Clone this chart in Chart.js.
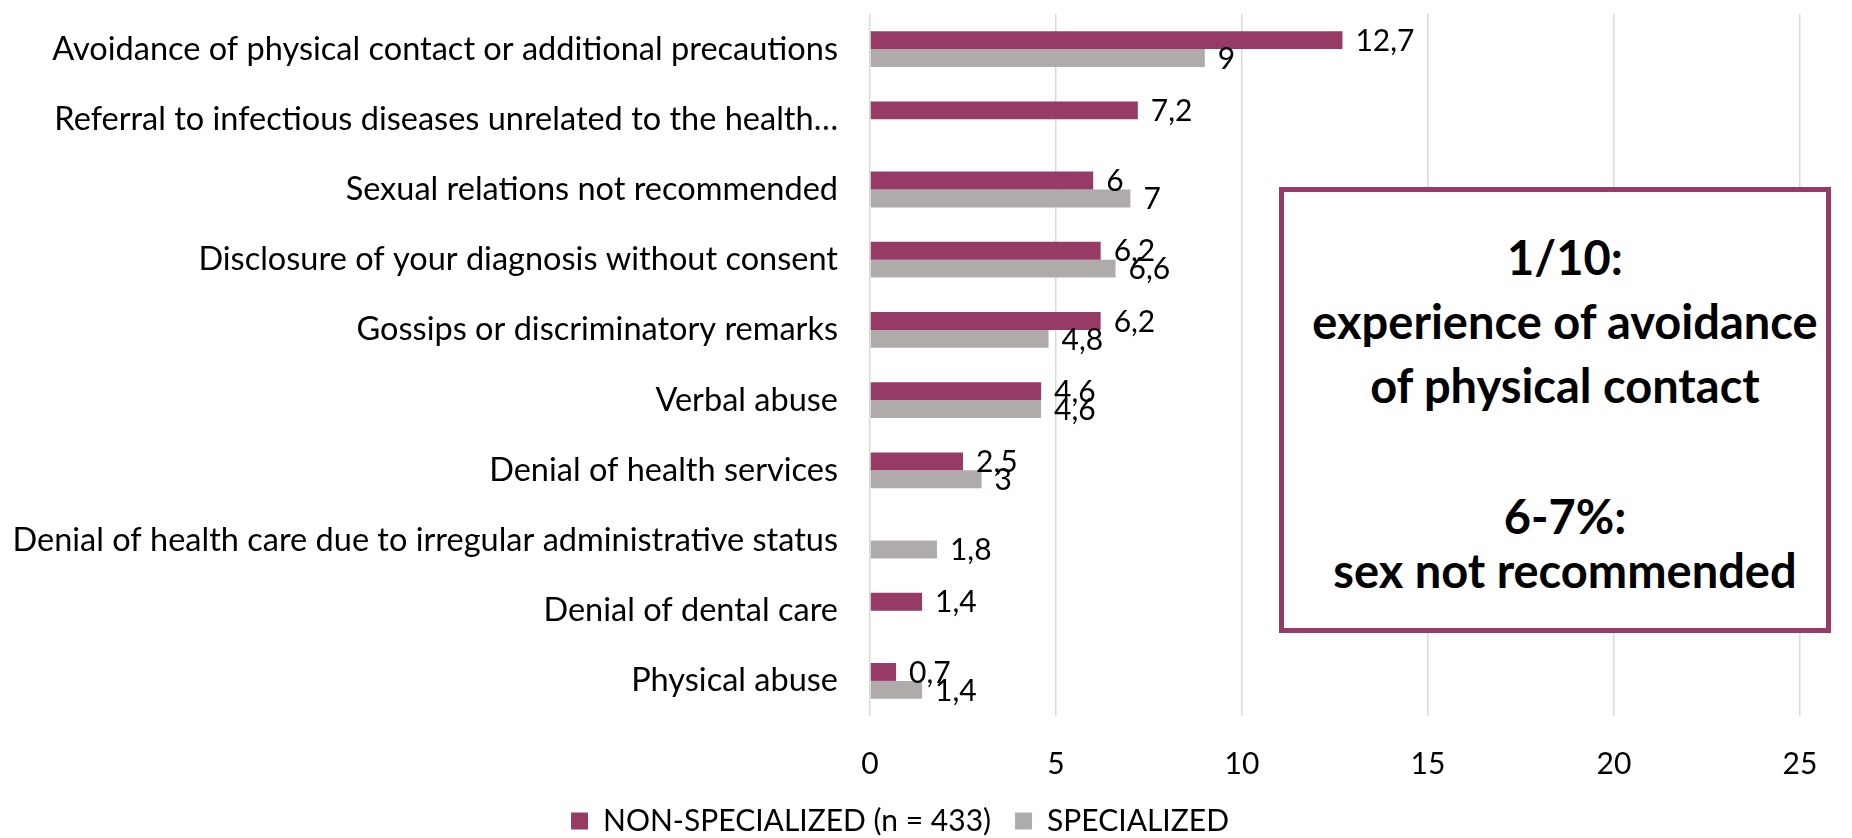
<!DOCTYPE html>
<html>
<head>
<meta charset="utf-8">
<script src="https://cdn.jsdelivr.net/npm/chart.js@4.4.1/dist/chart.umd.min.js"></script>
<style>
  body { margin: 0; background: #fff; overflow: hidden; }
  #wrap { position: relative; width: 1852px; height: 838px; overflow: hidden; }
  #note {
    position: absolute; left: 1279px; top: 187px; width: 552px; height: 446px;
    box-sizing: border-box; border: 5px solid #953B65; background: #fff;
    font-family: Lato, sans-serif; font-weight: bold; font-size: 47px; color: #000;
  }
  #note div { position: absolute; left: 20px; right: 0; text-align: center; line-height: 50px; white-space: nowrap; }
</style>
</head>
<body>
<div id="wrap">
  <canvas id="myChart" width="1852" height="846"></canvas>
  <div id="note">
    <div style="top:40px">1/10:</div>
    <div style="top:104px">experience of avoidance</div>
    <div style="top:168px">of physical contact</div>
    <div style="top:299px">6-7%:</div>
    <div style="top:353px">sex not recommended</div>
  </div>
</div>
<script>
const categories = [
  "Avoidance of physical contact or additional precautions",
  "Referral to infectious diseases unrelated to the health…",
  "Sexual relations not recommended",
  "Disclosure of your diagnosis without consent",
  "Gossips or discriminatory remarks",
  "Verbal abuse",
  "Denial of health services",
  "Denial of health care due to irregular administrative status",
  "Denial of dental care",
  "Physical abuse"
];
const nonSpecialized = [12.7, 7.2, 6, 6.2, 6.2, 4.6, 2.5, null, 1.4, 0.7];
const specialized = [9, null, 7, 6.6, 4.8, 4.6, 3, 1.8, null, 1.4];
const xTicks = [0, 5, 10, 15, 20, 25];

const fontFamily = "Lato, sans-serif";

// draws the value next to each bar, with a comma as decimal mark
const barLabels = {
  id: 'barLabels',
  afterDatasetsDraw(chart) {
    const ctx = chart.ctx;
    ctx.save();
    ctx.font = "30px " + fontFamily;
    ctx.fillStyle = "#000";
    ctx.textAlign = "left";
    ctx.textBaseline = "middle";
    chart.data.datasets.forEach(function (ds, i) {
      const meta = chart.getDatasetMeta(i);
      meta.data.forEach(function (bar, j) {
        const v = ds.data[j];
        if (v === null || v === undefined) return;
        ctx.fillText(String(v).replace('.', ','), bar.x + 13, bar.y + 1);
      });
    });
    ctx.restore();
  }
};

const myChartRef = document.getElementById("myChart").getContext("2d");

new Chart(myChartRef, {
  type: "bar",
  data: {
    labels: categories,
    datasets: [
      {
        label: "NON-SPECIALIZED (n = 433)",
        data: nonSpecialized,
        backgroundColor: "#953B65",
        categoryPercentage: 0.51,
        barPercentage: 1.0
      },
      {
        label: "SPECIALIZED",
        data: specialized,
        backgroundColor: "#AFABAB",
        categoryPercentage: 0.51,
        barPercentage: 1.0
      }
    ]
  },
  plugins: [barLabels],
  options: {
    indexAxis: 'y',
    responsive: false,
    animation: false,
    devicePixelRatio: 1,
    layout: { padding: { left: 0, top: 14, right: 52, bottom: 0 } },
    plugins: {
      tooltip: { enabled: false },
      legend: {
        position: 'bottom',
        labels: {
          color: "#000",
          font: { family: fontFamily, size: 30 },
          boxWidth: 17,
          boxHeight: 17,
          padding: 24
        }
      }
    },
    scales: {
      x: {
        min: 0,
        max: 25,
        afterBuildTicks: function (scale) {
          scale.ticks = xTicks.map(function (v) { return { value: v }; });
        },
        afterFit: function (scale) {
          scale.height = 66;
          scale.paddingLeft = 0;
          scale.paddingRight = 0;
        },
        grid: { color: "#D9D9D9", lineWidth: 1.5, drawTicks: false },
        border: { display: false },
        ticks: {
          color: "#000",
          font: { family: fontFamily, size: 30 },
          padding: 30
        }
      },
      y: {
        afterFit: function (scale) {
          scale.width = 870;
          scale.paddingTop = 0;
          scale.paddingBottom = 0;
        },
        grid: { display: false, drawTicks: false },
        border: { display: false },
        ticks: {
          color: "#000",
          font: { family: fontFamily, size: 32.5 },
          padding: 32,
          autoSkip: false
        }
      }
    }
  }
});
</script>
</body>
</html>
